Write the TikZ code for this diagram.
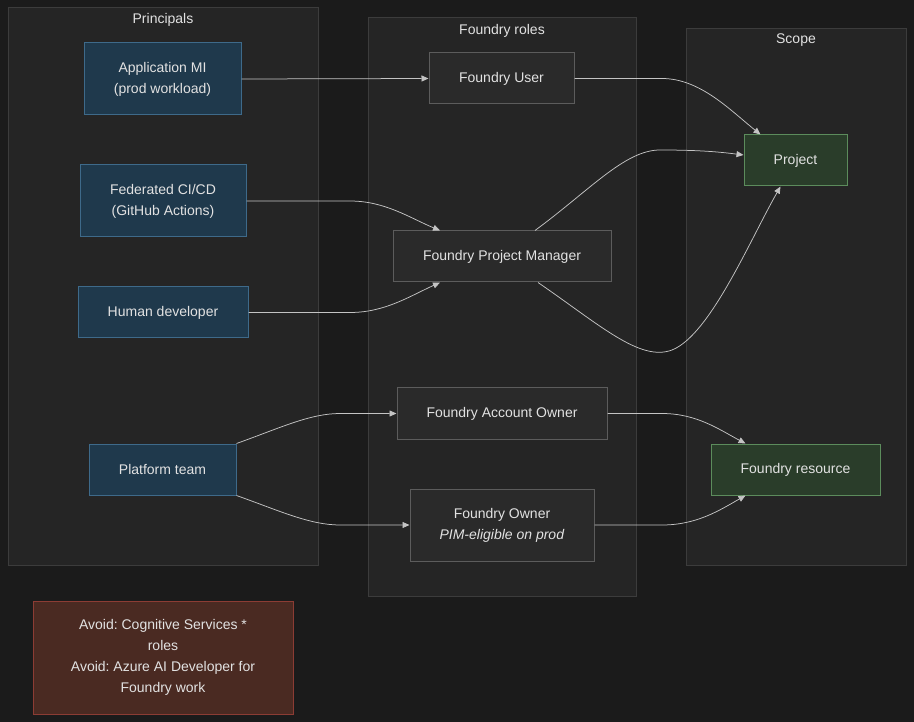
\documentclass[tikz,border=0pt]{standalone}
\usepackage{fontspec}
\setmainfont{Liberation Sans}
\frenchspacing
\usetikzlibrary{arrows.meta}
\definecolor{bg}{HTML}{1B1B1B}
\definecolor{clfill}{HTML}{252525}
\definecolor{cldraw}{HTML}{3C3C3C}
\definecolor{txt}{HTML}{E2E2E2}
\definecolor{pfill}{HTML}{1F394C}
\definecolor{pdraw}{HTML}{3E6A8A}
\definecolor{rfill}{HTML}{2A2A2A}
\definecolor{rdraw}{HTML}{5C5C5C}
\definecolor{sfill}{HTML}{2A3D2A}
\definecolor{sdraw}{HTML}{5C8C5C}
\definecolor{afill}{HTML}{4A2A22}
\definecolor{adraw}{HTML}{8C3C34}
\definecolor{edge}{HTML}{C4C4C4}
\tikzset{
  base/.style={font=\fontsize{14}{21}\selectfont, text=txt, align=center, inner sep=0pt, line width=1pt},
  princ/.style={base, fill=pfill, draw=pdraw},
  role/.style={base, fill=rfill, draw=rdraw},
  scopebox/.style={base, fill=sfill, draw=sdraw},
  avoidbox/.style={base, fill=afill, draw=adraw},
  cluster/.style={fill=clfill, draw=cldraw, line width=1pt},
  ctitle/.style={font=\fontsize{14}{17}\selectfont, text=txt, inner sep=0pt},
  conn/.style={draw=edge, line width=0.75pt, -{Triangle[length=7pt,width=6pt]}},
}
\begin{document}
\begin{tikzpicture}[x=1pt,y=-1pt]
\useasboundingbox (0,0) rectangle (914,722);
\fill[bg] (0,0) rectangle (914,722);
% clusters
\draw[cluster] (8,8) rectangle (318,565);
\node[ctitle] (tp) at (163,19.5) {Principals};
\draw[cluster] (368,18) rectangle (636,596);
\node[ctitle] (tr) at (502,30.5) {Foundry roles};
\draw[cluster] (686,29) rectangle (906,565);
\node[ctitle] (ts) at (796,40.5) {Scope};
% principals
\node[princ, minimum width=157pt, minimum height=72pt] (mi) at (162.5,79) {Application MI\\(prod workload)};
\node[princ, minimum width=166pt, minimum height=72pt] (fed) at (163,201) {Federated CI/CD\\(GitHub Actions)};
\node[princ, minimum width=170pt, minimum height=51pt] (hum) at (163,312.5) {Human developer};
\node[princ, minimum width=147pt, minimum height=51pt] (pt) at (162.5,469.5) {Platform team};
% roles
\node[role, minimum width=145pt, minimum height=51pt] (user) at (501.5,78.5) {Foundry User};
\node[role, minimum width=218pt, minimum height=51pt] (pm) at (502,256.5) {Foundry Project Manager};
\node[role, minimum width=210pt, minimum height=51pt] (ao) at (502,413.5) {Foundry Account Owner};
\node[role, minimum width=184pt, minimum height=72pt] (fo) at (502,525) {Foundry Owner\\\textit{PIM-eligible on prod}};
% scope
\node[scopebox, minimum width=103pt, minimum height=51pt] (proj) at (795.5,160.5) {Project};
\node[scopebox, minimum width=169pt, minimum height=51pt] (res) at (795.5,469.5) {Foundry resource};
% avoid
\node[avoidbox, minimum width=260pt, minimum height=113pt] (av) at (163,657.5) {Avoid: Cognitive Services *\\roles\\Avoid: Azure AI Developer for\\Foundry work};
% connectors
\draw[conn] (mi.east) -- (user.west);
\draw[conn] (fed.east) -- (350,201) .. controls (385,201) and (410,218) .. ([xshift=-62pt]pm.north);
\draw[conn] (hum.east) -- (350,312.5) .. controls (385,312.5) and (410,296) .. ([xshift=-62pt]pm.south);
\draw[conn] (pt.north east) .. controls (280,428) and (310,413.5) .. (340,413.5) -- (ao.west);
\draw[conn] (pt.south east) .. controls (280,511) and (310,525) .. (340,525) -- (fo.west);
\draw[conn] (user.east) -- (662,78.5) .. controls (700,78.5) and (730,110) .. ([xshift=-35pt]proj.north);
\draw[conn] ([xshift=33pt]pm.north) .. controls (590,190) and (625,150) .. (660,150) .. controls (700,150) and (720,152) .. ([yshift=5.5pt]proj.west);
\draw[conn] ([xshift=36pt]pm.south) .. controls (600,325) and (640,362) .. (672,350) .. controls (710,335) and (750,240) .. ([xshift=-15pt]proj.south);
\draw[conn] (ao.east) -- (662,413.5) .. controls (697,413.5) and (720,430) .. ([xshift=-50pt]res.north);
\draw[conn] (fo.east) -- (662,525) .. controls (697,525) and (720,510) .. ([xshift=-50pt]res.south);
\end{tikzpicture}
\end{document}
